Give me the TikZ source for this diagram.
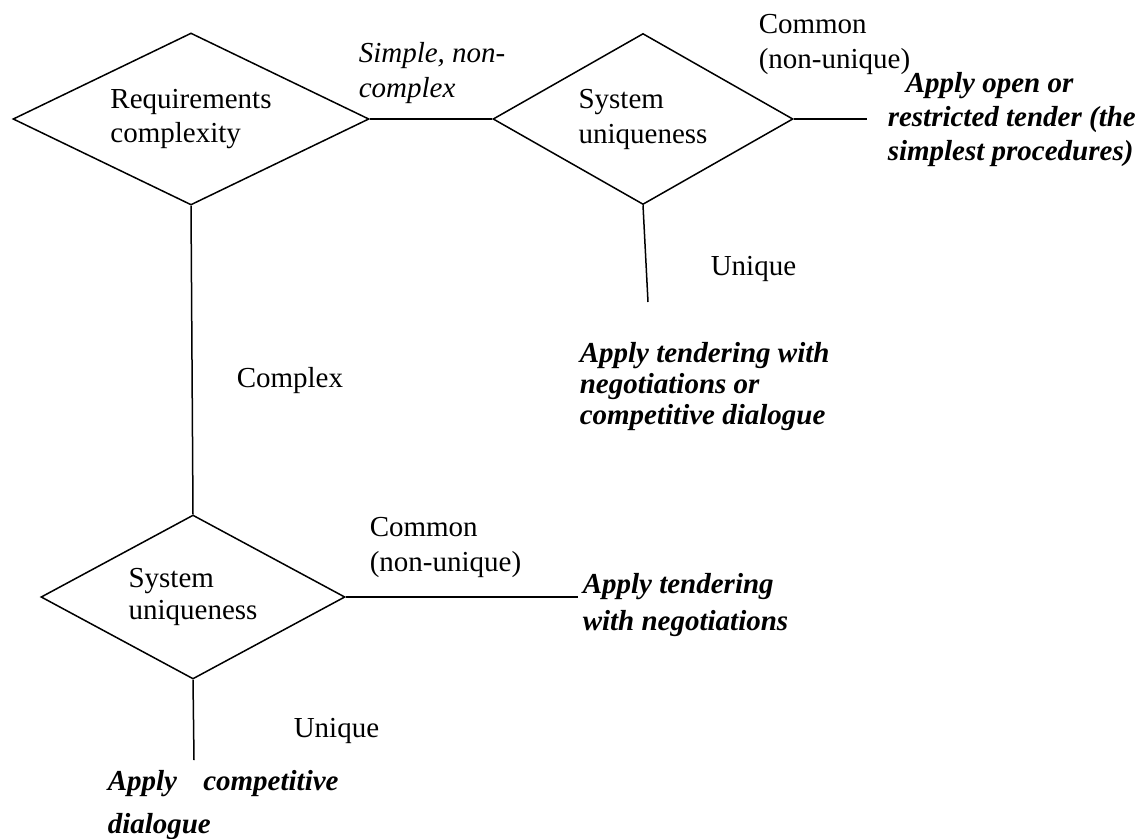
\documentclass[tikz,border=0pt]{standalone}
\usepackage{fontspec}
\setmainfont{Liberation Serif}
\usetikzlibrary{shapes.geometric}
\newcommand{\mylines}[2]{{\fontsize{29}{#1}\selectfont\begin{tabular}[t]{@{}l@{}}#2\end{tabular}}}
\begin{document}
\begin{tikzpicture}[x=1pt,y=-1pt,line width=1.5pt,
  dia/.style={draw, shape=diamond, inner sep=0pt, align=left},
  lbl/.style={anchor=base west, inner sep=0pt, font=\rmfamily},
  ital/.style={lbl, font=\itshape},
  res/.style={lbl, font=\bfseries\itshape}]
\useasboundingbox (0,0) rectangle (1148,838);
% decision diamonds
\node[dia, minimum width=356pt, minimum height=172pt, aspect=2,
      font=\fontsize{29}{34}\selectfont] (d1) at (191,119) {Requirements\\complexity};
\node[dia, minimum width=300pt, minimum height=171pt, aspect=1.75,
      font=\fontsize{29}{35}\selectfont] (d2) at (643,119) {System\\uniqueness};
\node[dia, minimum width=304pt, minimum height=164pt, aspect=1.85,
      font=\fontsize{29}{32}\selectfont] (d3) at (193,597) {System\\uniqueness};
% free ends
\coordinate (e1) at (867,119);
\coordinate (e2) at (648,302);
\coordinate (e3) at (578,597);
\coordinate (e4) at (194,760);
% connectors
\draw (d1.east) -- (d2.west);
\draw (d1.south) -- (d3.north);
\draw (d2.east) -- (e1);
\draw (d2.south) -- (e2);
\draw (d3.east) -- (e3);
\draw (d3.south) -- (e4);
% labels
\node[ital] (simple) at (358,62) {\mylines{35}{Simple, non-\\complex}};
\node[lbl] (common1) at (758,33) {\mylines{35}{Common\\(non-unique)}};
\node[res] (open) at (887,92) {\mylines{34}{\hspace{18pt}Apply open or\\restricted tender (the\\simplest procedures)}};
\node[lbl] (unique1) at (710,275) {\mylines{35}{Unique}};
\node[res] (negcd) at (579,362) {\mylines{31}{Apply tendering with\\negotiations or\\competitive dialogue}};
\node[lbl] (complex) at (236,387) {\mylines{35}{Complex}};
\node[lbl] (common2) at (369,536) {\mylines{35}{Common\\(non-unique)}};
\node[res] (neg) at (582,593) {\mylines{37}{Apply tendering\\with negotiations}};
\node[lbl] (unique2) at (293,737) {\mylines{35}{Unique}};
\node[res] (cd) at (107,790) {\mylines{43}{Apply\hspace{19pt} competitive\\dialogue}};
\end{tikzpicture}
\end{document}
